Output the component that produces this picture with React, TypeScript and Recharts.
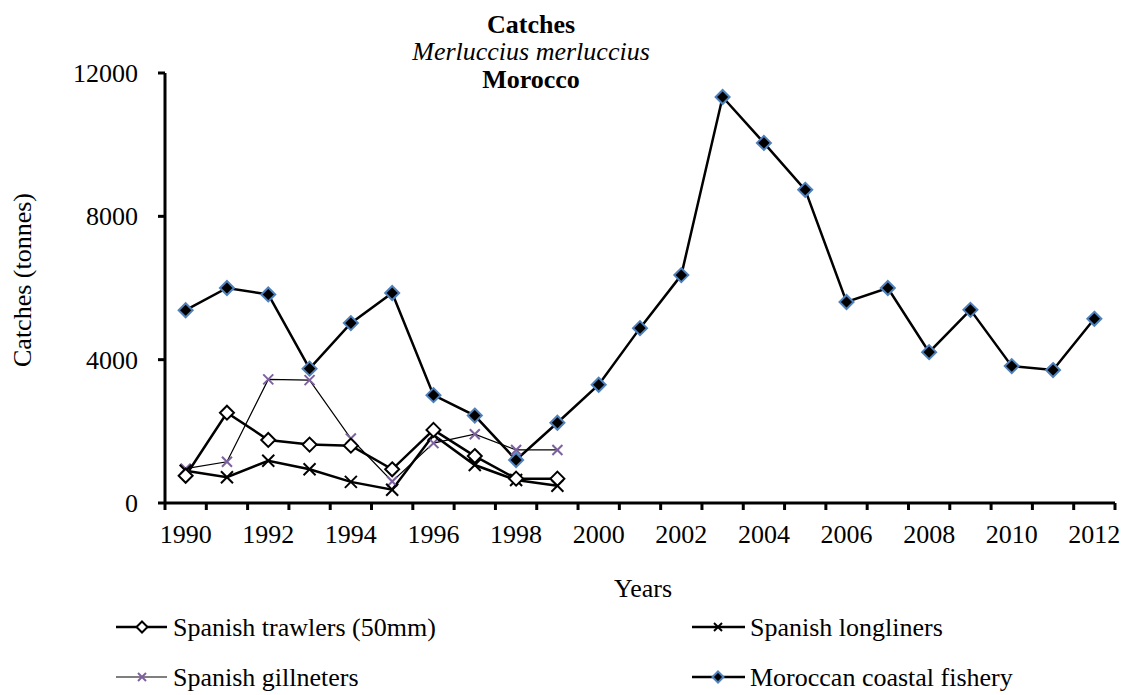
import React from "react";
import { LineChart, Line, XAxis, YAxis } from "recharts";

const years = [
  1990, 1991, 1992, 1993, 1994, 1995, 1996, 1997, 1998, 1999, 2000, 2001,
  2002, 2003, 2004, 2005, 2006, 2007, 2008, 2009, 2010, 2011, 2012,
];
const moroccanCoastal = [
  5380, 6000, 5820, 3750, 5020, 5860, 3010, 2440, 1200, 2240, 3300, 4880,
  6360, 11330, 10050, 8740, 5610, 6000, 4210, 5390, 3820, 3710, 5140,
];
const spanishTrawlers = [760, 2520, 1760, 1630, 1600, 940, 2040, 1310, 680, 680];
const spanishLongliners = [900, 720, 1180, 940, 590, 370, 1900, 1060, 640, 480];
const spanishGillneters = [960, 1150, 3450, 3430, 1800, 600, 1670, 1920, 1480, 1480];
const yTicks = [0, 4000, 8000, 12000];

const FONT = "Liberation Serif, Times New Roman, Times, serif";
const PURPLE = "#7d60a0";
const BLUE = "#4f81bd";
const txt = { fontFamily: FONT };

const data = years.map((year, i) => ({
  year,
  trawlers: spanishTrawlers[i] ?? null,
  longliners: spanishLongliners[i] ?? null,
  gillneters: spanishGillneters[i] ?? null,
  moroccan: moroccanCoastal[i],
}));

// tick marks sit between the years, labels on even years
const xTicks = years.flatMap((y) => [y - 0.5, y]).concat(years[years.length - 1] + 0.5);

const YearTick = (props: any) => {
  const { x, y, payload } = props;
  const v = payload.value;
  if (v % 1 !== 0) {
    return <line x1={x} x2={x} y1={y} y2={y + 7} stroke="#000" strokeWidth={3} />;
  }
  if (v % 2 === 0) {
    return (
      <text x={x} y={y + 40} textAnchor="middle" fontSize={26} style={txt} fill="#000">
        {v}
      </text>
    );
  }
  return <g />;
};

const ValueTick = (props: any) => {
  const { x, y, payload } = props;
  return (
    <text x={x} y={y} dy="0.34em" textAnchor="end" fontSize={26} style={txt} fill="#000">
      {payload.value}
    </text>
  );
};

const diamond = (cx: number, cy: number, r: number) =>
  `${cx},${cy - r} ${cx + r},${cy} ${cx},${cy + r} ${cx - r},${cy}`;

const OpenDiamond = (props: any) => {
  const { cx, cy, index } = props;
  if (cy == null) return <g key={index} />;
  return <polygon key={index} points={diamond(cx, cy, 7)} fill="#fff" stroke="#000" strokeWidth={2} />;
};

const Cross = (size: number, color: string, w: number) => (props: any) => {
  const { cx, cy, index } = props;
  if (cy == null) return <g key={index} />;
  return (
    <g key={index} stroke={color} strokeWidth={w}>
      <line x1={cx - size} y1={cy - size} x2={cx + size} y2={cy + size} />
      <line x1={cx - size} y1={cy + size} x2={cx + size} y2={cy - size} />
    </g>
  );
};

const FilledDiamond = (props: any) => {
  const { cx, cy, index } = props;
  if (cy == null) return <g key={index} />;
  return <polygon key={index} points={diamond(cx, cy, 7)} fill="#000" stroke={BLUE} strokeWidth={2} />;
};

export default function App() {
  return (
    <div style={{ position: "absolute", left: 0, top: 0, width: 1128, height: 695, background: "#fff", fontFamily: FONT }}>
      <LineChart width={1128} height={695} data={data} margin={{ top: 73, right: 13, left: 0, bottom: 162 }}>
        <XAxis
          dataKey="year"
          type="number"
          domain={[1989.5, 2012.5]}
          ticks={xTicks}
          interval={0}
          tick={<YearTick />}
          tickLine={false}
          tickSize={0}
          tickMargin={0}
          height={30}
          axisLine={{ stroke: "#000", strokeWidth: 3 }}
        />
        <YAxis
          domain={[0, 12000]}
          ticks={yTicks}
          width={165}
          tickSize={7}
          tickMargin={20}
          tickLine={{ stroke: "#000", strokeWidth: 3 }}
          axisLine={{ stroke: "#000", strokeWidth: 3 }}
          tick={<ValueTick />}
        />
        <Line dataKey="gillneters" stroke="#000" strokeWidth={1.2} dot={Cross(5, PURPLE, 2)} isAnimationActive={false} />
        <Line dataKey="longliners" stroke="#000" strokeWidth={2.5} dot={Cross(6, "#000", 2)} isAnimationActive={false} />
        <Line dataKey="trawlers" stroke="#000" strokeWidth={2.5} dot={OpenDiamond} isAnimationActive={false} />
        <Line dataKey="moroccan" stroke="#000" strokeWidth={2.5} dot={FilledDiamond} isAnimationActive={false} />
      </LineChart>

      <svg width={1128} height={695} style={{ position: "absolute", left: 0, top: 0, pointerEvents: "none", fontFamily: FONT }}>
        <g fontSize={26} textAnchor="middle" fill="#000" style={txt}>
          <text x={531} y={33} fontWeight="bold">Catches</text>
          <text x={531} y={60} fontStyle="italic">Merluccius merluccius</text>
          <text x={531} y={88} fontWeight="bold">Morocco</text>
          <text x={643} y={597}>Years</text>
          <text transform="translate(31,280) rotate(-90)">Catches (tonnes)</text>
        </g>

        {/* legend */}
        <g fontSize={26} fill="#000" style={txt}>
          <line x1={116} x2={167} y1={627} y2={627} stroke="#000" strokeWidth={2.5} />
          <polygon points={diamond(142, 627, 5.5)} fill="#fff" stroke="#000" strokeWidth={2} />
          <text x={173} y={636}>Spanish trawlers (50mm)</text>

          <line x1={692} x2={745} y1={627} y2={627} stroke="#000" strokeWidth={2.5} />
          <g stroke="#000" strokeWidth={2}>
            <line x1={714} y1={623} x2={722} y2={631} />
            <line x1={714} y1={631} x2={722} y2={623} />
          </g>
          <text x={750} y={636}>Spanish longliners</text>

          <line x1={116} x2={167} y1={677} y2={677} stroke="#000" strokeWidth={1.2} />
          <g stroke={PURPLE} strokeWidth={2}>
            <line x1={138} y1={673} x2={146} y2={681} />
            <line x1={138} y1={681} x2={146} y2={673} />
          </g>
          <text x={173} y={686}>Spanish gillneters</text>

          <line x1={692} x2={745} y1={677} y2={677} stroke="#000" strokeWidth={2.5} />
          <polygon points={diamond(718, 677, 5.5)} fill="#000" stroke={BLUE} strokeWidth={2} />
          <text x={750} y={686}>Moroccan coastal fishery</text>
        </g>
      </svg>
    </div>
  );
}
